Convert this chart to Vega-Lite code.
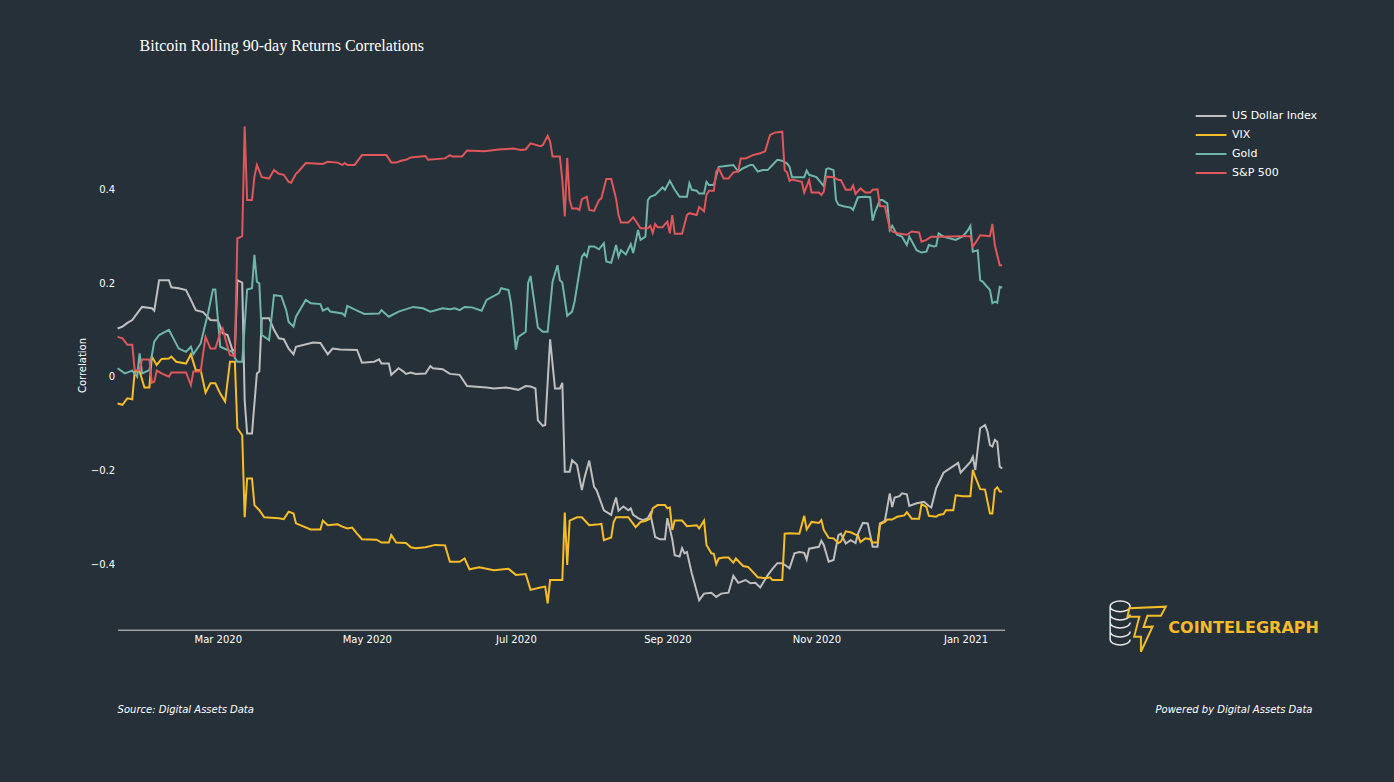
{
  "$schema": "https://vega.github.io/schema/vega-lite/v6.json",
  "autosize": "none",
  "width": 887,
  "height": 529.4,
  "padding": {"left": 117.6, "top": 100.3, "right": 389.4, "bottom": 152.3},
  "background": "#263038",
  "title": {"text": "Bitcoin Rolling 90-day Returns Correlations", "anchor": "start", "frame": "group", "font": "Liberation Serif", "fontSize": 16, "fontWeight": "normal", "color": "#ffffff", "dx": 22, "offset": 33, "baseline": "alphabetic"},
  "config": {"view": {"stroke": null}, "font": "DejaVu Sans"},
  "layer": [
    {
      "mark": {"type": "rule", "color": "#3d474f", "strokeWidth": 1},
      "encoding": {"y": {"datum": 0, "type": "quantitative"}}
    },
    {
      "data": {"values": [
        {"date":"2020-01-20","series":"US Dollar Index","value":0.103},
        {"date":"2020-01-22","series":"US Dollar Index","value":0.107},
        {"date":"2020-01-24","series":"US Dollar Index","value":0.115},
        {"date":"2020-01-26","series":"US Dollar Index","value":0.121},
        {"date":"2020-01-28","series":"US Dollar Index","value":0.135},
        {"date":"2020-01-30","series":"US Dollar Index","value":0.149},
        {"date":"2020-02-03","series":"US Dollar Index","value":0.146},
        {"date":"2020-02-04","series":"US Dollar Index","value":0.141},
        {"date":"2020-02-06","series":"US Dollar Index","value":0.206},
        {"date":"2020-02-10","series":"US Dollar Index","value":0.206},
        {"date":"2020-02-11","series":"US Dollar Index","value":0.191},
        {"date":"2020-02-14","series":"US Dollar Index","value":0.189},
        {"date":"2020-02-17","series":"US Dollar Index","value":0.185},
        {"date":"2020-02-19","series":"US Dollar Index","value":0.164},
        {"date":"2020-02-21","series":"US Dollar Index","value":0.142},
        {"date":"2020-02-24","series":"US Dollar Index","value":0.138},
        {"date":"2020-02-27","series":"US Dollar Index","value":0.121},
        {"date":"2020-03-01","series":"US Dollar Index","value":0.120},
        {"date":"2020-03-03","series":"US Dollar Index","value":0.093},
        {"date":"2020-03-05","series":"US Dollar Index","value":0.089},
        {"date":"2020-03-07","series":"US Dollar Index","value":0.057},
        {"date":"2020-03-08","series":"US Dollar Index","value":0.056},
        {"date":"2020-03-09","series":"US Dollar Index","value":0.206},
        {"date":"2020-03-11","series":"US Dollar Index","value":0.201},
        {"date":"2020-03-12","series":"US Dollar Index","value":-0.05},
        {"date":"2020-03-13","series":"US Dollar Index","value":-0.121},
        {"date":"2020-03-15","series":"US Dollar Index","value":-0.121},
        {"date":"2020-03-17","series":"US Dollar Index","value":0.007},
        {"date":"2020-03-18","series":"US Dollar Index","value":0.011},
        {"date":"2020-03-19","series":"US Dollar Index","value":0.125},
        {"date":"2020-03-22","series":"US Dollar Index","value":0.125},
        {"date":"2020-03-24","series":"US Dollar Index","value":0.100},
        {"date":"2020-03-26","series":"US Dollar Index","value":0.082},
        {"date":"2020-03-28","series":"US Dollar Index","value":0.080},
        {"date":"2020-03-30","series":"US Dollar Index","value":0.060},
        {"date":"2020-04-01","series":"US Dollar Index","value":0.048},
        {"date":"2020-04-02","series":"US Dollar Index","value":0.064},
        {"date":"2020-04-09","series":"US Dollar Index","value":0.073},
        {"date":"2020-04-12","series":"US Dollar Index","value":0.072},
        {"date":"2020-04-15","series":"US Dollar Index","value":0.048},
        {"date":"2020-04-17","series":"US Dollar Index","value":0.060},
        {"date":"2020-04-20","series":"US Dollar Index","value":0.058},
        {"date":"2020-04-27","series":"US Dollar Index","value":0.057},
        {"date":"2020-04-29","series":"US Dollar Index","value":0.030},
        {"date":"2020-05-04","series":"US Dollar Index","value":0.032},
        {"date":"2020-05-06","series":"US Dollar Index","value":0.037},
        {"date":"2020-05-07","series":"US Dollar Index","value":0.028},
        {"date":"2020-05-10","series":"US Dollar Index","value":0.028},
        {"date":"2020-05-11","series":"US Dollar Index","value":0.004},
        {"date":"2020-05-14","series":"US Dollar Index","value":0.018},
        {"date":"2020-05-16","series":"US Dollar Index","value":0.011},
        {"date":"2020-05-17","series":"US Dollar Index","value":0.006},
        {"date":"2020-05-19","series":"US Dollar Index","value":0.009},
        {"date":"2020-05-21","series":"US Dollar Index","value":0.006},
        {"date":"2020-05-25","series":"US Dollar Index","value":0.007},
        {"date":"2020-05-27","series":"US Dollar Index","value":0.023},
        {"date":"2020-05-28","series":"US Dollar Index","value":0.018},
        {"date":"2020-06-01","series":"US Dollar Index","value":0.016},
        {"date":"2020-06-04","series":"US Dollar Index","value":0.006},
        {"date":"2020-06-08","series":"US Dollar Index","value":0.004},
        {"date":"2020-06-11","series":"US Dollar Index","value":-0.020},
        {"date":"2020-06-19","series":"US Dollar Index","value":-0.023},
        {"date":"2020-06-22","series":"US Dollar Index","value":-0.025},
        {"date":"2020-06-27","series":"US Dollar Index","value":-0.023},
        {"date":"2020-07-02","series":"US Dollar Index","value":-0.028},
        {"date":"2020-07-05","series":"US Dollar Index","value":-0.020},
        {"date":"2020-07-07","series":"US Dollar Index","value":-0.021},
        {"date":"2020-07-09","series":"US Dollar Index","value":-0.025},
        {"date":"2020-07-10","series":"US Dollar Index","value":-0.093},
        {"date":"2020-07-12","series":"US Dollar Index","value":-0.105},
        {"date":"2020-07-13","series":"US Dollar Index","value":-0.103},
        {"date":"2020-07-15","series":"US Dollar Index","value":0.080},
        {"date":"2020-07-17","series":"US Dollar Index","value":-0.025},
        {"date":"2020-07-19","series":"US Dollar Index","value":-0.025},
        {"date":"2020-07-20","series":"US Dollar Index","value":-0.013},
        {"date":"2020-07-21","series":"US Dollar Index","value":-0.203},
        {"date":"2020-07-23","series":"US Dollar Index","value":-0.203},
        {"date":"2020-07-24","series":"US Dollar Index","value":-0.178},
        {"date":"2020-07-26","series":"US Dollar Index","value":-0.188},
        {"date":"2020-07-28","series":"US Dollar Index","value":-0.242},
        {"date":"2020-07-29","series":"US Dollar Index","value":-0.217},
        {"date":"2020-07-31","series":"US Dollar Index","value":-0.179},
        {"date":"2020-08-02","series":"US Dollar Index","value":-0.235},
        {"date":"2020-08-03","series":"US Dollar Index","value":-0.242},
        {"date":"2020-08-06","series":"US Dollar Index","value":-0.285},
        {"date":"2020-08-09","series":"US Dollar Index","value":-0.295},
        {"date":"2020-08-10","series":"US Dollar Index","value":-0.274},
        {"date":"2020-08-11","series":"US Dollar Index","value":-0.258},
        {"date":"2020-08-12","series":"US Dollar Index","value":-0.286},
        {"date":"2020-08-14","series":"US Dollar Index","value":-0.277},
        {"date":"2020-08-16","series":"US Dollar Index","value":-0.285},
        {"date":"2020-08-17","series":"US Dollar Index","value":-0.281},
        {"date":"2020-08-18","series":"US Dollar Index","value":-0.295},
        {"date":"2020-08-20","series":"US Dollar Index","value":-0.302},
        {"date":"2020-08-22","series":"US Dollar Index","value":-0.306},
        {"date":"2020-08-24","series":"US Dollar Index","value":-0.302},
        {"date":"2020-08-25","series":"US Dollar Index","value":-0.292},
        {"date":"2020-08-27","series":"US Dollar Index","value":-0.342},
        {"date":"2020-08-29","series":"US Dollar Index","value":-0.347},
        {"date":"2020-08-31","series":"US Dollar Index","value":-0.347},
        {"date":"2020-09-01","series":"US Dollar Index","value":-0.302},
        {"date":"2020-09-03","series":"US Dollar Index","value":-0.347},
        {"date":"2020-09-04","series":"US Dollar Index","value":-0.381},
        {"date":"2020-09-06","series":"US Dollar Index","value":-0.384},
        {"date":"2020-09-07","series":"US Dollar Index","value":-0.366},
        {"date":"2020-09-08","series":"US Dollar Index","value":-0.377},
        {"date":"2020-09-09","series":"US Dollar Index","value":-0.374},
        {"date":"2020-09-11","series":"US Dollar Index","value":-0.420},
        {"date":"2020-09-14","series":"US Dollar Index","value":-0.477},
        {"date":"2020-09-16","series":"US Dollar Index","value":-0.463},
        {"date":"2020-09-19","series":"US Dollar Index","value":-0.461},
        {"date":"2020-09-21","series":"US Dollar Index","value":-0.470},
        {"date":"2020-09-23","series":"US Dollar Index","value":-0.463},
        {"date":"2020-09-26","series":"US Dollar Index","value":-0.461},
        {"date":"2020-09-28","series":"US Dollar Index","value":-0.425},
        {"date":"2020-09-30","series":"US Dollar Index","value":-0.440},
        {"date":"2020-10-03","series":"US Dollar Index","value":-0.434},
        {"date":"2020-10-05","series":"US Dollar Index","value":-0.441},
        {"date":"2020-10-07","series":"US Dollar Index","value":-0.440},
        {"date":"2020-10-09","series":"US Dollar Index","value":-0.450},
        {"date":"2020-10-12","series":"US Dollar Index","value":-0.424},
        {"date":"2020-10-14","series":"US Dollar Index","value":-0.410},
        {"date":"2020-10-16","series":"US Dollar Index","value":-0.398},
        {"date":"2020-10-18","series":"US Dollar Index","value":-0.398},
        {"date":"2020-10-20","series":"US Dollar Index","value":-0.405},
        {"date":"2020-10-21","series":"US Dollar Index","value":-0.409},
        {"date":"2020-10-23","series":"US Dollar Index","value":-0.377},
        {"date":"2020-10-25","series":"US Dollar Index","value":-0.374},
        {"date":"2020-10-27","series":"US Dollar Index","value":-0.376},
        {"date":"2020-10-28","series":"US Dollar Index","value":-0.390},
        {"date":"2020-10-29","series":"US Dollar Index","value":-0.367},
        {"date":"2020-11-02","series":"US Dollar Index","value":-0.363},
        {"date":"2020-11-03","series":"US Dollar Index","value":-0.350},
        {"date":"2020-11-04","series":"US Dollar Index","value":-0.359},
        {"date":"2020-11-06","series":"US Dollar Index","value":-0.395},
        {"date":"2020-11-08","series":"US Dollar Index","value":-0.391},
        {"date":"2020-11-10","series":"US Dollar Index","value":-0.338},
        {"date":"2020-11-11","series":"US Dollar Index","value":-0.335},
        {"date":"2020-11-13","series":"US Dollar Index","value":-0.356},
        {"date":"2020-11-15","series":"US Dollar Index","value":-0.349},
        {"date":"2020-11-17","series":"US Dollar Index","value":-0.355},
        {"date":"2020-11-18","series":"US Dollar Index","value":-0.335},
        {"date":"2020-11-20","series":"US Dollar Index","value":-0.312},
        {"date":"2020-11-22","series":"US Dollar Index","value":-0.313},
        {"date":"2020-11-24","series":"US Dollar Index","value":-0.363},
        {"date":"2020-11-26","series":"US Dollar Index","value":-0.363},
        {"date":"2020-11-27","series":"US Dollar Index","value":-0.313},
        {"date":"2020-11-29","series":"US Dollar Index","value":-0.308},
        {"date":"2020-12-01","series":"US Dollar Index","value":-0.249},
        {"date":"2020-12-02","series":"US Dollar Index","value":-0.278},
        {"date":"2020-12-03","series":"US Dollar Index","value":-0.258},
        {"date":"2020-12-05","series":"US Dollar Index","value":-0.255},
        {"date":"2020-12-06","series":"US Dollar Index","value":-0.249},
        {"date":"2020-12-08","series":"US Dollar Index","value":-0.251},
        {"date":"2020-12-09","series":"US Dollar Index","value":-0.276},
        {"date":"2020-12-12","series":"US Dollar Index","value":-0.270},
        {"date":"2020-12-15","series":"US Dollar Index","value":-0.267},
        {"date":"2020-12-17","series":"US Dollar Index","value":-0.276},
        {"date":"2020-12-18","series":"US Dollar Index","value":-0.279},
        {"date":"2020-12-20","series":"US Dollar Index","value":-0.238},
        {"date":"2020-12-23","series":"US Dollar Index","value":-0.205},
        {"date":"2020-12-27","series":"US Dollar Index","value":-0.191},
        {"date":"2020-12-29","series":"US Dollar Index","value":-0.184},
        {"date":"2020-12-30","series":"US Dollar Index","value":-0.205},
        {"date":"2021-01-03","series":"US Dollar Index","value":-0.182},
        {"date":"2021-01-04","series":"US Dollar Index","value":-0.171},
        {"date":"2021-01-05","series":"US Dollar Index","value":-0.199},
        {"date":"2021-01-07","series":"US Dollar Index","value":-0.110},
        {"date":"2021-01-09","series":"US Dollar Index","value":-0.103},
        {"date":"2021-01-10","series":"US Dollar Index","value":-0.117},
        {"date":"2021-01-11","series":"US Dollar Index","value":-0.146},
        {"date":"2021-01-12","series":"US Dollar Index","value":-0.149},
        {"date":"2021-01-13","series":"US Dollar Index","value":-0.135},
        {"date":"2021-01-14","series":"US Dollar Index","value":-0.139},
        {"date":"2021-01-15","series":"US Dollar Index","value":-0.192},
        {"date":"2021-01-16","series":"US Dollar Index","value":-0.196},

        {"date":"2020-01-20","series":"VIX","value":-0.057},
        {"date":"2020-01-22","series":"VIX","value":-0.060},
        {"date":"2020-01-24","series":"VIX","value":-0.046},
        {"date":"2020-01-26","series":"VIX","value":-0.048},
        {"date":"2020-01-27","series":"VIX","value":0.011},
        {"date":"2020-01-29","series":"VIX","value":0.011},
        {"date":"2020-01-31","series":"VIX","value":-0.023},
        {"date":"2020-02-02","series":"VIX","value":-0.023},
        {"date":"2020-02-03","series":"VIX","value":0.043},
        {"date":"2020-02-05","series":"VIX","value":0.025},
        {"date":"2020-02-07","series":"VIX","value":0.038},
        {"date":"2020-02-10","series":"VIX","value":0.039},
        {"date":"2020-02-11","series":"VIX","value":0.043},
        {"date":"2020-02-13","series":"VIX","value":0.032},
        {"date":"2020-02-17","series":"VIX","value":0.028},
        {"date":"2020-02-19","series":"VIX","value":0.048},
        {"date":"2020-02-21","series":"VIX","value":0.014},
        {"date":"2020-02-23","series":"VIX","value":0.014},
        {"date":"2020-02-25","series":"VIX","value":-0.034},
        {"date":"2020-02-27","series":"VIX","value":-0.014},
        {"date":"2020-02-29","series":"VIX","value":-0.014},
        {"date":"2020-03-02","series":"VIX","value":-0.036},
        {"date":"2020-03-04","series":"VIX","value":-0.053},
        {"date":"2020-03-06","series":"VIX","value":0.032},
        {"date":"2020-03-08","series":"VIX","value":0.032},
        {"date":"2020-03-09","series":"VIX","value":-0.110},
        {"date":"2020-03-11","series":"VIX","value":-0.125},
        {"date":"2020-03-12","series":"VIX","value":-0.300},
        {"date":"2020-03-13","series":"VIX","value":-0.217},
        {"date":"2020-03-15","series":"VIX","value":-0.217},
        {"date":"2020-03-16","series":"VIX","value":-0.274},
        {"date":"2020-03-18","series":"VIX","value":-0.285},
        {"date":"2020-03-20","series":"VIX","value":-0.300},
        {"date":"2020-03-26","series":"VIX","value":-0.302},
        {"date":"2020-03-28","series":"VIX","value":-0.304},
        {"date":"2020-03-30","series":"VIX","value":-0.288},
        {"date":"2020-04-01","series":"VIX","value":-0.292},
        {"date":"2020-04-02","series":"VIX","value":-0.313},
        {"date":"2020-04-08","series":"VIX","value":-0.326},
        {"date":"2020-04-12","series":"VIX","value":-0.326},
        {"date":"2020-04-13","series":"VIX","value":-0.307},
        {"date":"2020-04-15","series":"VIX","value":-0.317},
        {"date":"2020-04-19","series":"VIX","value":-0.315},
        {"date":"2020-04-21","series":"VIX","value":-0.320},
        {"date":"2020-04-23","series":"VIX","value":-0.324},
        {"date":"2020-04-25","series":"VIX","value":-0.322},
        {"date":"2020-04-27","series":"VIX","value":-0.335},
        {"date":"2020-04-29","series":"VIX","value":-0.347},
        {"date":"2020-05-05","series":"VIX","value":-0.348},
        {"date":"2020-05-07","series":"VIX","value":-0.354},
        {"date":"2020-05-10","series":"VIX","value":-0.354},
        {"date":"2020-05-11","series":"VIX","value":-0.338},
        {"date":"2020-05-13","series":"VIX","value":-0.354},
        {"date":"2020-05-17","series":"VIX","value":-0.355},
        {"date":"2020-05-19","series":"VIX","value":-0.364},
        {"date":"2020-05-21","series":"VIX","value":-0.366},
        {"date":"2020-05-25","series":"VIX","value":-0.364},
        {"date":"2020-05-29","series":"VIX","value":-0.359},
        {"date":"2020-06-02","series":"VIX","value":-0.360},
        {"date":"2020-06-04","series":"VIX","value":-0.395},
        {"date":"2020-06-08","series":"VIX","value":-0.395},
        {"date":"2020-06-10","series":"VIX","value":-0.388},
        {"date":"2020-06-12","series":"VIX","value":-0.411},
        {"date":"2020-06-16","series":"VIX","value":-0.407},
        {"date":"2020-06-22","series":"VIX","value":-0.413},
        {"date":"2020-06-28","series":"VIX","value":-0.410},
        {"date":"2020-07-01","series":"VIX","value":-0.423},
        {"date":"2020-07-05","series":"VIX","value":-0.421},
        {"date":"2020-07-07","series":"VIX","value":-0.455},
        {"date":"2020-07-11","series":"VIX","value":-0.450},
        {"date":"2020-07-13","series":"VIX","value":-0.448},
        {"date":"2020-07-14","series":"VIX","value":-0.484},
        {"date":"2020-07-15","series":"VIX","value":-0.434},
        {"date":"2020-07-20","series":"VIX","value":-0.434},
        {"date":"2020-07-21","series":"VIX","value":-0.290},
        {"date":"2020-07-22","series":"VIX","value":-0.402},
        {"date":"2020-07-23","series":"VIX","value":-0.307},
        {"date":"2020-07-26","series":"VIX","value":-0.300},
        {"date":"2020-07-28","series":"VIX","value":-0.300},
        {"date":"2020-07-31","series":"VIX","value":-0.317},
        {"date":"2020-08-04","series":"VIX","value":-0.315},
        {"date":"2020-08-05","series":"VIX","value":-0.314},
        {"date":"2020-08-06","series":"VIX","value":-0.349},
        {"date":"2020-08-09","series":"VIX","value":-0.343},
        {"date":"2020-08-10","series":"VIX","value":-0.310},
        {"date":"2020-08-11","series":"VIX","value":-0.300},
        {"date":"2020-08-16","series":"VIX","value":-0.300},
        {"date":"2020-08-19","series":"VIX","value":-0.321},
        {"date":"2020-08-21","series":"VIX","value":-0.310},
        {"date":"2020-08-23","series":"VIX","value":-0.308},
        {"date":"2020-08-25","series":"VIX","value":-0.303},
        {"date":"2020-08-26","series":"VIX","value":-0.281},
        {"date":"2020-08-28","series":"VIX","value":-0.274},
        {"date":"2020-08-31","series":"VIX","value":-0.274},
        {"date":"2020-09-01","series":"VIX","value":-0.281},
        {"date":"2020-09-02","series":"VIX","value":-0.279},
        {"date":"2020-09-03","series":"VIX","value":-0.327},
        {"date":"2020-09-04","series":"VIX","value":-0.307},
        {"date":"2020-09-07","series":"VIX","value":-0.307},
        {"date":"2020-09-09","series":"VIX","value":-0.319},
        {"date":"2020-09-13","series":"VIX","value":-0.317},
        {"date":"2020-09-14","series":"VIX","value":-0.324},
        {"date":"2020-09-16","series":"VIX","value":-0.307},
        {"date":"2020-09-17","series":"VIX","value":-0.359},
        {"date":"2020-09-19","series":"VIX","value":-0.377},
        {"date":"2020-09-20","series":"VIX","value":-0.378},
        {"date":"2020-09-21","series":"VIX","value":-0.400},
        {"date":"2020-09-22","series":"VIX","value":-0.388},
        {"date":"2020-09-24","series":"VIX","value":-0.386},
        {"date":"2020-09-26","series":"VIX","value":-0.386},
        {"date":"2020-09-28","series":"VIX","value":-0.397},
        {"date":"2020-09-29","series":"VIX","value":-0.388},
        {"date":"2020-10-02","series":"VIX","value":-0.404},
        {"date":"2020-10-04","series":"VIX","value":-0.406},
        {"date":"2020-10-08","series":"VIX","value":-0.428},
        {"date":"2020-10-11","series":"VIX","value":-0.430},
        {"date":"2020-10-13","series":"VIX","value":-0.428},
        {"date":"2020-10-14","series":"VIX","value":-0.434},
        {"date":"2020-10-18","series":"VIX","value":-0.434},
        {"date":"2020-10-19","series":"VIX","value":-0.335},
        {"date":"2020-10-21","series":"VIX","value":-0.334},
        {"date":"2020-10-25","series":"VIX","value":-0.335},
        {"date":"2020-10-27","series":"VIX","value":-0.297},
        {"date":"2020-10-28","series":"VIX","value":-0.326},
        {"date":"2020-10-30","series":"VIX","value":-0.310},
        {"date":"2020-11-02","series":"VIX","value":-0.312},
        {"date":"2020-11-03","series":"VIX","value":-0.306},
        {"date":"2020-11-04","series":"VIX","value":-0.327},
        {"date":"2020-11-06","series":"VIX","value":-0.344},
        {"date":"2020-11-08","series":"VIX","value":-0.345},
        {"date":"2020-11-10","series":"VIX","value":-0.355},
        {"date":"2020-11-11","series":"VIX","value":-0.352},
        {"date":"2020-11-13","series":"VIX","value":-0.330},
        {"date":"2020-11-15","series":"VIX","value":-0.332},
        {"date":"2020-11-17","series":"VIX","value":-0.337},
        {"date":"2020-11-18","series":"VIX","value":-0.339},
        {"date":"2020-11-19","series":"VIX","value":-0.353},
        {"date":"2020-11-21","series":"VIX","value":-0.345},
        {"date":"2020-11-23","series":"VIX","value":-0.347},
        {"date":"2020-11-24","series":"VIX","value":-0.354},
        {"date":"2020-11-26","series":"VIX","value":-0.354},
        {"date":"2020-11-27","series":"VIX","value":-0.315},
        {"date":"2020-11-29","series":"VIX","value":-0.310},
        {"date":"2020-11-30","series":"VIX","value":-0.305},
        {"date":"2020-12-02","series":"VIX","value":-0.305},
        {"date":"2020-12-04","series":"VIX","value":-0.299},
        {"date":"2020-12-07","series":"VIX","value":-0.296},
        {"date":"2020-12-08","series":"VIX","value":-0.289},
        {"date":"2020-12-10","series":"VIX","value":-0.303},
        {"date":"2020-12-13","series":"VIX","value":-0.303},
        {"date":"2020-12-14","series":"VIX","value":-0.272},
        {"date":"2020-12-16","series":"VIX","value":-0.278},
        {"date":"2020-12-17","series":"VIX","value":-0.297},
        {"date":"2020-12-20","series":"VIX","value":-0.299},
        {"date":"2020-12-21","series":"VIX","value":-0.295},
        {"date":"2020-12-23","series":"VIX","value":-0.293},
        {"date":"2020-12-24","series":"VIX","value":-0.285},
        {"date":"2020-12-27","series":"VIX","value":-0.285},
        {"date":"2020-12-28","series":"VIX","value":-0.253},
        {"date":"2020-12-31","series":"VIX","value":-0.255},
        {"date":"2021-01-03","series":"VIX","value":-0.255},
        {"date":"2021-01-04","series":"VIX","value":-0.199},
        {"date":"2021-01-05","series":"VIX","value":-0.214},
        {"date":"2021-01-07","series":"VIX","value":-0.240},
        {"date":"2021-01-09","series":"VIX","value":-0.241},
        {"date":"2021-01-11","series":"VIX","value":-0.292},
        {"date":"2021-01-12","series":"VIX","value":-0.292},
        {"date":"2021-01-13","series":"VIX","value":-0.241},
        {"date":"2021-01-14","series":"VIX","value":-0.236},
        {"date":"2021-01-15","series":"VIX","value":-0.245},
        {"date":"2021-01-16","series":"VIX","value":-0.245},

        {"date":"2020-01-20","series":"Gold","value":0.018},
        {"date":"2020-01-23","series":"Gold","value":0.007},
        {"date":"2020-01-26","series":"Gold","value":0.013},
        {"date":"2020-01-28","series":"Gold","value":0.000},
        {"date":"2020-01-29","series":"Gold","value":0.050},
        {"date":"2020-01-30","series":"Gold","value":0.007},
        {"date":"2020-02-02","series":"Gold","value":0.014},
        {"date":"2020-02-04","series":"Gold","value":0.075},
        {"date":"2020-02-06","series":"Gold","value":0.089},
        {"date":"2020-02-10","series":"Gold","value":0.100},
        {"date":"2020-02-14","series":"Gold","value":0.060},
        {"date":"2020-02-17","series":"Gold","value":0.053},
        {"date":"2020-02-19","series":"Gold","value":0.064},
        {"date":"2020-02-20","series":"Gold","value":0.048},
        {"date":"2020-02-23","series":"Gold","value":0.071},
        {"date":"2020-02-25","series":"Gold","value":0.114},
        {"date":"2020-02-26","series":"Gold","value":0.135},
        {"date":"2020-02-28","series":"Gold","value":0.186},
        {"date":"2020-02-29","series":"Gold","value":0.186},
        {"date":"2020-03-02","series":"Gold","value":0.064},
        {"date":"2020-03-05","series":"Gold","value":0.057},
        {"date":"2020-03-07","series":"Gold","value":0.053},
        {"date":"2020-03-08","series":"Gold","value":0.040},
        {"date":"2020-03-09","series":"Gold","value":0.032},
        {"date":"2020-03-11","series":"Gold","value":0.032},
        {"date":"2020-03-13","series":"Gold","value":0.186},
        {"date":"2020-03-15","series":"Gold","value":0.189},
        {"date":"2020-03-16","series":"Gold","value":0.260},
        {"date":"2020-03-17","series":"Gold","value":0.203},
        {"date":"2020-03-18","series":"Gold","value":0.199},
        {"date":"2020-03-19","series":"Gold","value":0.089},
        {"date":"2020-03-21","series":"Gold","value":0.082},
        {"date":"2020-03-22","series":"Gold","value":0.078},
        {"date":"2020-03-24","series":"Gold","value":0.174},
        {"date":"2020-03-27","series":"Gold","value":0.172},
        {"date":"2020-03-29","series":"Gold","value":0.142},
        {"date":"2020-03-30","series":"Gold","value":0.117},
        {"date":"2020-04-01","series":"Gold","value":0.107},
        {"date":"2020-04-02","series":"Gold","value":0.128},
        {"date":"2020-04-06","series":"Gold","value":0.164},
        {"date":"2020-04-08","series":"Gold","value":0.157},
        {"date":"2020-04-12","series":"Gold","value":0.155},
        {"date":"2020-04-13","series":"Gold","value":0.141},
        {"date":"2020-04-15","series":"Gold","value":0.146},
        {"date":"2020-04-16","series":"Gold","value":0.139},
        {"date":"2020-04-21","series":"Gold","value":0.135},
        {"date":"2020-04-22","series":"Gold","value":0.130},
        {"date":"2020-04-23","series":"Gold","value":0.151},
        {"date":"2020-04-27","series":"Gold","value":0.141},
        {"date":"2020-04-30","series":"Gold","value":0.134},
        {"date":"2020-05-06","series":"Gold","value":0.135},
        {"date":"2020-05-07","series":"Gold","value":0.142},
        {"date":"2020-05-10","series":"Gold","value":0.128},
        {"date":"2020-05-14","series":"Gold","value":0.139},
        {"date":"2020-05-20","series":"Gold","value":0.149},
        {"date":"2020-05-24","series":"Gold","value":0.146},
        {"date":"2020-05-27","series":"Gold","value":0.139},
        {"date":"2020-06-01","series":"Gold","value":0.146},
        {"date":"2020-06-04","series":"Gold","value":0.144},
        {"date":"2020-06-06","series":"Gold","value":0.146},
        {"date":"2020-06-08","series":"Gold","value":0.142},
        {"date":"2020-06-10","series":"Gold","value":0.149},
        {"date":"2020-06-13","series":"Gold","value":0.148},
        {"date":"2020-06-17","series":"Gold","value":0.141},
        {"date":"2020-06-19","series":"Gold","value":0.164},
        {"date":"2020-06-24","series":"Gold","value":0.178},
        {"date":"2020-06-25","series":"Gold","value":0.189},
        {"date":"2020-06-28","series":"Gold","value":0.185},
        {"date":"2020-06-29","series":"Gold","value":0.157},
        {"date":"2020-07-01","series":"Gold","value":0.058},
        {"date":"2020-07-02","series":"Gold","value":0.085},
        {"date":"2020-07-05","series":"Gold","value":0.096},
        {"date":"2020-07-06","series":"Gold","value":0.200},
        {"date":"2020-07-07","series":"Gold","value":0.215},
        {"date":"2020-07-10","series":"Gold","value":0.105},
        {"date":"2020-07-12","series":"Gold","value":0.096},
        {"date":"2020-07-14","series":"Gold","value":0.096},
        {"date":"2020-07-16","series":"Gold","value":0.203},
        {"date":"2020-07-18","series":"Gold","value":0.238},
        {"date":"2020-07-19","series":"Gold","value":0.206},
        {"date":"2020-07-20","series":"Gold","value":0.201},
        {"date":"2020-07-22","series":"Gold","value":0.130},
        {"date":"2020-07-24","series":"Gold","value":0.139},
        {"date":"2020-07-25","series":"Gold","value":0.160},
        {"date":"2020-07-28","series":"Gold","value":0.256},
        {"date":"2020-07-29","series":"Gold","value":0.263},
        {"date":"2020-07-30","series":"Gold","value":0.256},
        {"date":"2020-07-31","series":"Gold","value":0.278},
        {"date":"2020-08-02","series":"Gold","value":0.278},
        {"date":"2020-08-04","series":"Gold","value":0.272},
        {"date":"2020-08-06","series":"Gold","value":0.285},
        {"date":"2020-08-07","series":"Gold","value":0.246},
        {"date":"2020-08-09","series":"Gold","value":0.243},
        {"date":"2020-08-11","series":"Gold","value":0.281},
        {"date":"2020-08-12","series":"Gold","value":0.256},
        {"date":"2020-08-13","series":"Gold","value":0.270},
        {"date":"2020-08-15","series":"Gold","value":0.261},
        {"date":"2020-08-17","series":"Gold","value":0.283},
        {"date":"2020-08-18","series":"Gold","value":0.264},
        {"date":"2020-08-20","series":"Gold","value":0.313},
        {"date":"2020-08-21","series":"Gold","value":0.292},
        {"date":"2020-08-23","series":"Gold","value":0.299},
        {"date":"2020-08-24","series":"Gold","value":0.377},
        {"date":"2020-08-25","series":"Gold","value":0.384},
        {"date":"2020-08-27","series":"Gold","value":0.388},
        {"date":"2020-08-30","series":"Gold","value":0.404},
        {"date":"2020-08-31","series":"Gold","value":0.399},
        {"date":"2020-09-02","series":"Gold","value":0.418},
        {"date":"2020-09-04","series":"Gold","value":0.399},
        {"date":"2020-09-06","series":"Gold","value":0.384},
        {"date":"2020-09-09","series":"Gold","value":0.384},
        {"date":"2020-09-10","series":"Gold","value":0.413},
        {"date":"2020-09-11","series":"Gold","value":0.399},
        {"date":"2020-09-13","series":"Gold","value":0.397},
        {"date":"2020-09-14","series":"Gold","value":0.391},
        {"date":"2020-09-16","series":"Gold","value":0.391},
        {"date":"2020-09-17","series":"Gold","value":0.416},
        {"date":"2020-09-18","series":"Gold","value":0.409},
        {"date":"2020-09-20","series":"Gold","value":0.409},
        {"date":"2020-09-22","series":"Gold","value":0.448},
        {"date":"2020-09-24","series":"Gold","value":0.449},
        {"date":"2020-09-28","series":"Gold","value":0.452},
        {"date":"2020-09-30","series":"Gold","value":0.438},
        {"date":"2020-10-02","series":"Gold","value":0.445},
        {"date":"2020-10-05","series":"Gold","value":0.452},
        {"date":"2020-10-06","series":"Gold","value":0.452},
        {"date":"2020-10-08","series":"Gold","value":0.438},
        {"date":"2020-10-10","series":"Gold","value":0.441},
        {"date":"2020-10-12","series":"Gold","value":0.441},
        {"date":"2020-10-14","series":"Gold","value":0.452},
        {"date":"2020-10-16","series":"Gold","value":0.463},
        {"date":"2020-10-18","series":"Gold","value":0.461},
        {"date":"2020-10-20","series":"Gold","value":0.455},
        {"date":"2020-10-21","series":"Gold","value":0.448},
        {"date":"2020-10-22","series":"Gold","value":0.426},
        {"date":"2020-10-27","series":"Gold","value":0.426},
        {"date":"2020-10-28","series":"Gold","value":0.440},
        {"date":"2020-10-29","series":"Gold","value":0.431},
        {"date":"2020-11-01","series":"Gold","value":0.426},
        {"date":"2020-11-04","series":"Gold","value":0.407},
        {"date":"2020-11-05","series":"Gold","value":0.443},
        {"date":"2020-11-06","series":"Gold","value":0.445},
        {"date":"2020-11-08","series":"Gold","value":0.441},
        {"date":"2020-11-09","series":"Gold","value":0.377},
        {"date":"2020-11-10","series":"Gold","value":0.367},
        {"date":"2020-11-12","series":"Gold","value":0.364},
        {"date":"2020-11-15","series":"Gold","value":0.361},
        {"date":"2020-11-16","series":"Gold","value":0.356},
        {"date":"2020-11-18","series":"Gold","value":0.383},
        {"date":"2020-11-21","series":"Gold","value":0.384},
        {"date":"2020-11-23","series":"Gold","value":0.383},
        {"date":"2020-11-24","series":"Gold","value":0.333},
        {"date":"2020-11-25","series":"Gold","value":0.352},
        {"date":"2020-11-27","series":"Gold","value":0.377},
        {"date":"2020-11-28","series":"Gold","value":0.377},
        {"date":"2020-11-30","series":"Gold","value":0.370},
        {"date":"2020-12-01","series":"Gold","value":0.313},
        {"date":"2020-12-02","series":"Gold","value":0.322},
        {"date":"2020-12-04","series":"Gold","value":0.303},
        {"date":"2020-12-06","series":"Gold","value":0.299},
        {"date":"2020-12-08","series":"Gold","value":0.281},
        {"date":"2020-12-09","series":"Gold","value":0.299},
        {"date":"2020-12-12","series":"Gold","value":0.270},
        {"date":"2020-12-14","series":"Gold","value":0.265},
        {"date":"2020-12-16","series":"Gold","value":0.267},
        {"date":"2020-12-17","series":"Gold","value":0.281},
        {"date":"2020-12-19","series":"Gold","value":0.278},
        {"date":"2020-12-20","series":"Gold","value":0.279},
        {"date":"2020-12-21","series":"Gold","value":0.306},
        {"date":"2020-12-23","series":"Gold","value":0.299},
        {"date":"2020-12-28","series":"Gold","value":0.292},
        {"date":"2020-12-31","series":"Gold","value":0.300},
        {"date":"2021-01-02","series":"Gold","value":0.313},
        {"date":"2021-01-03","series":"Gold","value":0.322},
        {"date":"2021-01-04","series":"Gold","value":0.267},
        {"date":"2021-01-06","series":"Gold","value":0.270},
        {"date":"2021-01-07","series":"Gold","value":0.206},
        {"date":"2021-01-08","series":"Gold","value":0.203},
        {"date":"2021-01-11","series":"Gold","value":0.185},
        {"date":"2021-01-12","series":"Gold","value":0.157},
        {"date":"2021-01-13","series":"Gold","value":0.160},
        {"date":"2021-01-14","series":"Gold","value":0.158},
        {"date":"2021-01-15","series":"Gold","value":0.192},
        {"date":"2021-01-16","series":"Gold","value":0.190},

        {"date":"2020-01-20","series":"S&P 500","value":0.085},
        {"date":"2020-01-22","series":"S&P 500","value":0.082},
        {"date":"2020-01-24","series":"S&P 500","value":0.068},
        {"date":"2020-01-26","series":"S&P 500","value":0.068},
        {"date":"2020-01-27","series":"S&P 500","value":0.014},
        {"date":"2020-01-29","series":"S&P 500","value":0.014},
        {"date":"2020-01-30","series":"S&P 500","value":0.037},
        {"date":"2020-02-02","series":"S&P 500","value":0.037},
        {"date":"2020-02-03","series":"S&P 500","value":-0.013},
        {"date":"2020-02-04","series":"S&P 500","value":-0.011},
        {"date":"2020-02-05","series":"S&P 500","value":0.013},
        {"date":"2020-02-07","series":"S&P 500","value":0.007},
        {"date":"2020-02-10","series":"S&P 500","value":0.000},
        {"date":"2020-02-11","series":"S&P 500","value":0.009},
        {"date":"2020-02-17","series":"S&P 500","value":0.009},
        {"date":"2020-02-19","series":"S&P 500","value":-0.018},
        {"date":"2020-02-20","series":"S&P 500","value":0.011},
        {"date":"2020-02-23","series":"S&P 500","value":0.011},
        {"date":"2020-02-24","series":"S&P 500","value":0.050},
        {"date":"2020-02-25","series":"S&P 500","value":0.085},
        {"date":"2020-02-27","series":"S&P 500","value":0.060},
        {"date":"2020-02-29","series":"S&P 500","value":0.060},
        {"date":"2020-03-02","series":"S&P 500","value":0.093},
        {"date":"2020-03-03","series":"S&P 500","value":0.103},
        {"date":"2020-03-05","series":"S&P 500","value":0.064},
        {"date":"2020-03-06","series":"S&P 500","value":0.046},
        {"date":"2020-03-08","series":"S&P 500","value":0.044},
        {"date":"2020-03-09","series":"S&P 500","value":0.295},
        {"date":"2020-03-11","series":"S&P 500","value":0.300},
        {"date":"2020-03-12","series":"S&P 500","value":0.534},
        {"date":"2020-03-13","series":"S&P 500","value":0.377},
        {"date":"2020-03-15","series":"S&P 500","value":0.377},
        {"date":"2020-03-16","series":"S&P 500","value":0.427},
        {"date":"2020-03-17","series":"S&P 500","value":0.452},
        {"date":"2020-03-19","series":"S&P 500","value":0.426},
        {"date":"2020-03-22","series":"S&P 500","value":0.423},
        {"date":"2020-03-24","series":"S&P 500","value":0.441},
        {"date":"2020-03-26","series":"S&P 500","value":0.433},
        {"date":"2020-03-28","series":"S&P 500","value":0.431},
        {"date":"2020-03-30","series":"S&P 500","value":0.416},
        {"date":"2020-03-31","series":"S&P 500","value":0.414},
        {"date":"2020-04-02","series":"S&P 500","value":0.433},
        {"date":"2020-04-03","series":"S&P 500","value":0.438},
        {"date":"2020-04-06","series":"S&P 500","value":0.456},
        {"date":"2020-04-13","series":"S&P 500","value":0.454},
        {"date":"2020-04-15","series":"S&P 500","value":0.459},
        {"date":"2020-04-19","series":"S&P 500","value":0.457},
        {"date":"2020-04-21","series":"S&P 500","value":0.452},
        {"date":"2020-04-22","series":"S&P 500","value":0.456},
        {"date":"2020-04-23","series":"S&P 500","value":0.452},
        {"date":"2020-04-26","series":"S&P 500","value":0.452},
        {"date":"2020-04-29","series":"S&P 500","value":0.473},
        {"date":"2020-05-05","series":"S&P 500","value":0.473},
        {"date":"2020-05-09","series":"S&P 500","value":0.473},
        {"date":"2020-05-11","series":"S&P 500","value":0.457},
        {"date":"2020-05-13","series":"S&P 500","value":0.457},
        {"date":"2020-05-15","series":"S&P 500","value":0.461},
        {"date":"2020-05-17","series":"S&P 500","value":0.463},
        {"date":"2020-05-19","series":"S&P 500","value":0.468},
        {"date":"2020-05-21","series":"S&P 500","value":0.469},
        {"date":"2020-05-25","series":"S&P 500","value":0.471},
        {"date":"2020-05-26","series":"S&P 500","value":0.463},
        {"date":"2020-06-02","series":"S&P 500","value":0.466},
        {"date":"2020-06-04","series":"S&P 500","value":0.473},
        {"date":"2020-06-05","series":"S&P 500","value":0.470},
        {"date":"2020-06-09","series":"S&P 500","value":0.470},
        {"date":"2020-06-11","series":"S&P 500","value":0.483},
        {"date":"2020-06-18","series":"S&P 500","value":0.481},
        {"date":"2020-06-24","series":"S&P 500","value":0.485},
        {"date":"2020-06-30","series":"S&P 500","value":0.487},
        {"date":"2020-07-03","series":"S&P 500","value":0.484},
        {"date":"2020-07-05","series":"S&P 500","value":0.485},
        {"date":"2020-07-07","series":"S&P 500","value":0.498},
        {"date":"2020-07-11","series":"S&P 500","value":0.492},
        {"date":"2020-07-12","series":"S&P 500","value":0.494},
        {"date":"2020-07-14","series":"S&P 500","value":0.514},
        {"date":"2020-07-15","series":"S&P 500","value":0.502},
        {"date":"2020-07-16","series":"S&P 500","value":0.470},
        {"date":"2020-07-19","series":"S&P 500","value":0.470},
        {"date":"2020-07-20","series":"S&P 500","value":0.420},
        {"date":"2020-07-21","series":"S&P 500","value":0.342},
        {"date":"2020-07-22","series":"S&P 500","value":0.467},
        {"date":"2020-07-23","series":"S&P 500","value":0.377},
        {"date":"2020-07-24","series":"S&P 500","value":0.359},
        {"date":"2020-07-26","series":"S&P 500","value":0.359},
        {"date":"2020-07-27","series":"S&P 500","value":0.356},
        {"date":"2020-07-28","series":"S&P 500","value":0.379},
        {"date":"2020-07-30","series":"S&P 500","value":0.384},
        {"date":"2020-07-31","series":"S&P 500","value":0.356},
        {"date":"2020-08-02","series":"S&P 500","value":0.354},
        {"date":"2020-08-04","series":"S&P 500","value":0.377},
        {"date":"2020-08-05","series":"S&P 500","value":0.381},
        {"date":"2020-08-07","series":"S&P 500","value":0.422},
        {"date":"2020-08-09","series":"S&P 500","value":0.422},
        {"date":"2020-08-11","series":"S&P 500","value":0.380},
        {"date":"2020-08-12","series":"S&P 500","value":0.345},
        {"date":"2020-08-13","series":"S&P 500","value":0.329},
        {"date":"2020-08-16","series":"S&P 500","value":0.329},
        {"date":"2020-08-18","series":"S&P 500","value":0.340},
        {"date":"2020-08-19","series":"S&P 500","value":0.333},
        {"date":"2020-08-21","series":"S&P 500","value":0.317},
        {"date":"2020-08-24","series":"S&P 500","value":0.317},
        {"date":"2020-08-25","series":"S&P 500","value":0.322},
        {"date":"2020-08-26","series":"S&P 500","value":0.307},
        {"date":"2020-08-27","series":"S&P 500","value":0.326},
        {"date":"2020-08-28","series":"S&P 500","value":0.319},
        {"date":"2020-08-30","series":"S&P 500","value":0.319},
        {"date":"2020-09-01","series":"S&P 500","value":0.331},
        {"date":"2020-09-02","series":"S&P 500","value":0.306},
        {"date":"2020-09-03","series":"S&P 500","value":0.345},
        {"date":"2020-09-04","series":"S&P 500","value":0.305},
        {"date":"2020-09-07","series":"S&P 500","value":0.305},
        {"date":"2020-09-09","series":"S&P 500","value":0.345},
        {"date":"2020-09-10","series":"S&P 500","value":0.349},
        {"date":"2020-09-13","series":"S&P 500","value":0.345},
        {"date":"2020-09-14","series":"S&P 500","value":0.362},
        {"date":"2020-09-16","series":"S&P 500","value":0.353},
        {"date":"2020-09-17","series":"S&P 500","value":0.388},
        {"date":"2020-09-18","series":"S&P 500","value":0.397},
        {"date":"2020-09-20","series":"S&P 500","value":0.397},
        {"date":"2020-09-21","series":"S&P 500","value":0.438},
        {"date":"2020-09-22","series":"S&P 500","value":0.445},
        {"date":"2020-09-24","series":"S&P 500","value":0.423},
        {"date":"2020-09-26","series":"S&P 500","value":0.423},
        {"date":"2020-09-28","series":"S&P 500","value":0.436},
        {"date":"2020-09-30","series":"S&P 500","value":0.438},
        {"date":"2020-10-01","series":"S&P 500","value":0.466},
        {"date":"2020-10-03","series":"S&P 500","value":0.466},
        {"date":"2020-10-06","series":"S&P 500","value":0.473},
        {"date":"2020-10-09","series":"S&P 500","value":0.477},
        {"date":"2020-10-11","series":"S&P 500","value":0.481},
        {"date":"2020-10-13","series":"S&P 500","value":0.516},
        {"date":"2020-10-15","series":"S&P 500","value":0.521},
        {"date":"2020-10-18","series":"S&P 500","value":0.523},
        {"date":"2020-10-19","series":"S&P 500","value":0.441},
        {"date":"2020-10-20","series":"S&P 500","value":0.436},
        {"date":"2020-10-21","series":"S&P 500","value":0.418},
        {"date":"2020-10-22","series":"S&P 500","value":0.421},
        {"date":"2020-10-26","series":"S&P 500","value":0.416},
        {"date":"2020-10-27","series":"S&P 500","value":0.393},
        {"date":"2020-10-29","series":"S&P 500","value":0.420},
        {"date":"2020-10-30","series":"S&P 500","value":0.393},
        {"date":"2020-11-02","series":"S&P 500","value":0.393},
        {"date":"2020-11-03","series":"S&P 500","value":0.388},
        {"date":"2020-11-04","series":"S&P 500","value":0.395},
        {"date":"2020-11-05","series":"S&P 500","value":0.427},
        {"date":"2020-11-08","series":"S&P 500","value":0.426},
        {"date":"2020-11-10","series":"S&P 500","value":0.420},
        {"date":"2020-11-11","series":"S&P 500","value":0.420},
        {"date":"2020-11-13","series":"S&P 500","value":0.399},
        {"date":"2020-11-15","series":"S&P 500","value":0.399},
        {"date":"2020-11-16","series":"S&P 500","value":0.408},
        {"date":"2020-11-17","series":"S&P 500","value":0.390},
        {"date":"2020-11-19","series":"S&P 500","value":0.402},
        {"date":"2020-11-21","series":"S&P 500","value":0.393},
        {"date":"2020-11-23","series":"S&P 500","value":0.393},
        {"date":"2020-11-24","series":"S&P 500","value":0.399},
        {"date":"2020-11-26","series":"S&P 500","value":0.400},
        {"date":"2020-11-27","series":"S&P 500","value":0.364},
        {"date":"2020-11-29","series":"S&P 500","value":0.364},
        {"date":"2020-12-01","series":"S&P 500","value":0.317},
        {"date":"2020-12-02","series":"S&P 500","value":0.310},
        {"date":"2020-12-04","series":"S&P 500","value":0.306},
        {"date":"2020-12-08","series":"S&P 500","value":0.303},
        {"date":"2020-12-10","series":"S&P 500","value":0.310},
        {"date":"2020-12-13","series":"S&P 500","value":0.308},
        {"date":"2020-12-14","series":"S&P 500","value":0.288},
        {"date":"2020-12-16","series":"S&P 500","value":0.292},
        {"date":"2020-12-18","series":"S&P 500","value":0.299},
        {"date":"2020-12-21","series":"S&P 500","value":0.299},
        {"date":"2020-12-30","series":"S&P 500","value":0.300},
        {"date":"2021-01-03","series":"S&P 500","value":0.300},
        {"date":"2021-01-04","series":"S&P 500","value":0.278},
        {"date":"2021-01-05","series":"S&P 500","value":0.285},
        {"date":"2021-01-07","series":"S&P 500","value":0.302},
        {"date":"2021-01-11","series":"S&P 500","value":0.300},
        {"date":"2021-01-12","series":"S&P 500","value":0.326},
        {"date":"2021-01-13","series":"S&P 500","value":0.281},
        {"date":"2021-01-15","series":"S&P 500","value":0.238},
        {"date":"2021-01-16","series":"S&P 500","value":0.238}
      ]},
      "mark": {"type": "line", "strokeWidth": 2, "interpolate": "linear"},
      "encoding": {
        "x": {
          "field": "date", "type": "temporal",
          "scale": {"type": "utc", "domain": [{"year": 2020, "month": 1, "date": 20, "utc": true}, {"year": 2021, "month": 1, "date": 17, "utc": true}]},
          "axis": {
            "title": null, "format": "%b %Y", "grid": false, "ticks": false, "tickSize": 0,
            "labelPadding": 5, "labelFont": "DejaVu Sans", "labelFontSize": 10, "labelColor": "#ffffff",
            "domainColor": "#d8d8d8", "domainWidth": 1,
            "values": [
              {"year": 2020, "month": 3, "date": 1, "utc": true},
              {"year": 2020, "month": 5, "date": 1, "utc": true},
              {"year": 2020, "month": 7, "date": 1, "utc": true},
              {"year": 2020, "month": 9, "date": 1, "utc": true},
              {"year": 2020, "month": 11, "date": 1, "utc": true},
              {"year": 2021, "month": 1, "date": 1, "utc": true}
            ]
          }
        },
        "y": {
          "field": "value", "type": "quantitative",
          "scale": {"domain": [-0.54, 0.59], "nice": false, "zero": false},
          "axis": {
            "title": "Correlation", "titleFont": "DejaVu Sans", "titleFontSize": 10, "titleFontWeight": "normal", "titleColor": "#ffffff", "titlePadding": 3,
            "values": [-0.4, -0.2, 0, 0.2, 0.4], "format": "~g",
            "grid": false, "domain": false, "ticks": false, "tickSize": 0, "labelPadding": 3,
            "labelFont": "DejaVu Sans", "labelFontSize": 10, "labelColor": "#ffffff"
          }
        },
        "color": {
          "field": "series", "type": "nominal",
          "scale": {"domain": ["US Dollar Index", "VIX", "Gold", "S&P 500"], "range": ["#bfbfbf", "#f7bd27", "#6fb6aa", "#e0575b"]},
          "legend": {
            "title": null, "orient": "none", "legendX": 1085.5, "legendY": 7.7, "padding": 0,
            "symbolType": "M-2.2,0H2.2", "symbolSize": 196, "symbolStrokeWidth": 2,
            "labelFont": "DejaVu Sans", "labelFontSize": 11, "labelColor": "#ffffff", "labelOffset": 13, "rowPadding": 6
          }
        }
      }
    },
    {
      "data": {"values": [{"label": "Source: Digital Assets Data"}]},
      "mark": {"type": "text", "align": "left", "baseline": "middle", "font": "DejaVu Sans", "fontSize": 10, "fontStyle": "italic", "color": "#ffffff"},
      "encoding": {
        "x": {"datum": {"year": 2020, "month": 1, "date": 20, "utc": true}, "type": "temporal"},
        "y": {"datum": -0.711, "type": "quantitative"},
        "text": {"field": "label"}
      }
    },
    {
      "data": {"values": [{"label": "Powered by Digital Assets Data"}]},
      "mark": {"type": "text", "align": "right", "baseline": "middle", "font": "DejaVu Sans", "fontSize": 10, "fontStyle": "italic", "color": "#ffffff"},
      "encoding": {
        "x": {"datum": {"year": 2021, "month": 5, "date": 23, "utc": true}, "type": "temporal"},
        "y": {"datum": -0.711, "type": "quantitative"},
        "text": {"field": "label"}
      }
    },
    {
      "data": {"values": [{"label": "COINTELEGRAPH"}]},
      "mark": {"type": "text", "align": "left", "baseline": "middle", "font": "DejaVu Sans", "fontSize": 16, "fontWeight": "bold", "color": "#f4bb2a"},
      "encoding": {
        "x": {"datum": {"year": 2021, "month": 3, "date": 25, "utc": true}, "type": "temporal"},
        "y": {"datum": -0.536, "type": "quantitative"},
        "text": {"field": "label"}
      }
    },
    {
      "data": {"values": [{"label": "logo coins"}]},
      "mark": {"type": "point", "filled": false, "size": 2916, "stroke": "#e6e6e6", "strokeWidth": 1.5, "opacity": 1,
        "shape": "M-0.94,-0.69 A0.37,0.2 0 1 1 -0.2,-0.69 A0.37,0.2 0 1 1 -0.94,-0.69 M-0.94,-0.69 V0.54 M-0.94,-0.39 A0.37,0.2 0 0 0 -0.2,-0.39 M-0.94,-0.09 A0.37,0.2 0 0 0 -0.2,-0.09 M-0.94,0.24 A0.37,0.2 0 0 0 -0.2,0.24 M-0.94,0.54 A0.37,0.2 0 0 0 -0.2,0.54"},
      "encoding": {
        "x": {"datum": {"year": 2021, "month": 3, "date": 11, "hours": 14, "utc": true}, "type": "temporal"},
        "y": {"datum": -0.53, "type": "quantitative"}
      }
    },
    {
      "data": {"values": [{"label": "logo bolt"}]},
      "mark": {"type": "point", "filled": false, "size": 2916, "stroke": "#f4bb2a", "strokeWidth": 2, "opacity": 1,
        "shape": "M-0.23,-0.62 L1.12,-0.68 L0.94,-0.34 L0.44,-0.34 L0.30,0.07 L0.63,0.06 L0.20,0.99 L0.20,0.43 L-0.05,0.43 L0.14,-0.31 L-0.30,-0.31 Z"},
      "encoding": {
        "x": {"datum": {"year": 2021, "month": 3, "date": 11, "hours": 14, "utc": true}, "type": "temporal"},
        "y": {"datum": -0.53, "type": "quantitative"}
      }
    }
  ]
}
